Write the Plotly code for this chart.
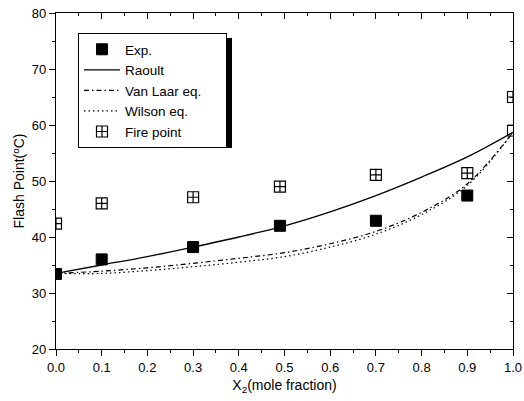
import plotly.graph_objects as go

x_exp = [0.0, 0.1, 0.3, 0.49, 0.7, 0.9, 1.0]
y_exp = [33.4, 36.0, 38.2, 42.0, 42.9, 47.4, 59.0]
exp_fill = ["black", "black", "black", "black", "black", "black", "white"]

x_model = [0.0, 0.1, 0.2, 0.3, 0.4, 0.5, 0.6, 0.7, 0.8, 0.9, 1.0]
y_raoult = [33.5, 35.0, 36.5, 38.2, 40.0, 42.0, 44.5, 47.4, 50.7, 54.3, 58.7]
y_vanlaar = [33.5, 33.9, 34.5, 35.3, 36.2, 37.2, 38.8, 41.0, 44.4, 49.5, 58.7]
y_wilson = [33.5, 33.5, 34.0, 34.7, 35.5, 36.5, 38.2, 40.5, 44.0, 49.2, 58.7]

x_fire = [0.0, 0.1, 0.3, 0.49, 0.7, 0.9, 1.0]
y_fire = [42.4, 46.0, 47.1, 49.0, 51.1, 51.4, 65.0]

NB = "\u00a0"

fig = go.Figure()
fig.add_trace(go.Scatter(x=x_exp, y=y_exp, mode="markers", name="Exp.",
                         marker=dict(symbol="square", size=11, color=exp_fill,
                                     line=dict(color="black", width=1))))
fig.add_trace(go.Scatter(x=x_model, y=y_raoult, mode="lines", name="Raoult",
                         line=dict(color="black", width=1.3, shape="spline")))
fig.add_trace(go.Scatter(x=x_model, y=y_vanlaar, mode="lines", name="Van Laar eq." + NB * 5,
                         line=dict(color="black", width=1.2, dash="5px,3px,1.5px,3px",
                                   shape="spline")))
fig.add_trace(go.Scatter(x=x_model, y=y_wilson, mode="lines", name="Wilson eq.",
                         line=dict(color="black", width=1.2, dash="1.5px,3px", shape="spline")))
fig.add_trace(go.Scatter(x=x_fire, y=y_fire, mode="markers", name="Fire point",
                         marker=dict(symbol="square-cross-open", size=11, color="black",
                                     line=dict(width=1.2))))

axis_font = dict(family="Liberation Sans, Arial, sans-serif", size=13, color="black")

L, T = 56, 13          # plot area left/top in page pixels
R, B = 513, 349        # plot area right/bottom in page pixels
FW, FH = 524, 401
W, H = R - L, B - T


def px(x):
    return (x - L) / W


def py(y):
    return (B - y) / H


fig.update_layout(
    width=FW, height=FH,
    margin=dict(l=L, r=FW - R, t=T, b=FH - B, autoexpand=False),
    paper_bgcolor="white", plot_bgcolor="white",
    font=axis_font,
    showlegend=True,
    legend=dict(x=px(78), y=py(33), xanchor="left", yanchor="top",
                bgcolor="white", bordercolor="black", borderwidth=1,
                itemwidth=36,
                font=dict(family="Liberation Sans, Arial, sans-serif", size=13.5, color="black"),
                tracegroupgap=0),
    xaxis=dict(range=[0, 1], dtick=0.1, tickformat=".1f", showgrid=False, zeroline=False,
               automargin=False, ticklabeloverflow="allow",
               showline=True, linecolor="black", linewidth=1.2,
               ticks="outside", ticklen=6, tickcolor="black",
               minor=dict(dtick=0.05, ticks="outside", ticklen=3, tickcolor="black"),
               title=dict(text="X<sub>2</sub>(mole fraction)", font=dict(size=14), standoff=6)),
    yaxis=dict(range=[20, 80], dtick=10, showgrid=False, zeroline=False,
               automargin=False, ticklabeloverflow="allow",
               showline=True, linecolor="black", linewidth=1.2,
               ticks="outside", ticklen=6, tickcolor="black",
               minor=dict(dtick=5, ticks="outside", ticklen=3, tickcolor="black"),
               title=dict(text="Flash Point(<sup>o</sup>C)", font=dict(size=14), standoff=3)),
    xaxis2=dict(range=[0, 1], dtick=0.1, overlaying="x", side="top", showgrid=False,
                automargin=False,
                zeroline=False, showline=True, linecolor="black", linewidth=1.2,
                ticks="inside", ticklen=6, tickcolor="black", showticklabels=False,
                minor=dict(dtick=0.05, ticks="inside", ticklen=3, tickcolor="black")),
    yaxis2=dict(range=[20, 80], dtick=10, overlaying="y", side="right", showgrid=False,
                automargin=False,
                zeroline=False, showline=True, linecolor="black", linewidth=1.2,
                ticks="inside", ticklen=6, tickcolor="black", showticklabels=False,
                minor=dict(dtick=5, ticks="inside", ticklen=3, tickcolor="black")),
    shapes=[dict(type="rect", xref="paper", yref="paper",
                 x0=px(82), x1=px(232), y0=py(148), y1=py(38),
                 fillcolor="black", line=dict(width=0), layer="above")],
)
# invisible trace to activate the mirrored axes
fig.add_trace(go.Scatter(x=[0], y=[20], xaxis="x2", yaxis="y2", mode="markers",
                         marker=dict(opacity=0), showlegend=False, hoverinfo="skip"))

fig.write_html("out.html",
               config={"displayModeBar": False},
               post_script="document.body.style.margin='0';"
                           "document.body.style.overflow='hidden';")
